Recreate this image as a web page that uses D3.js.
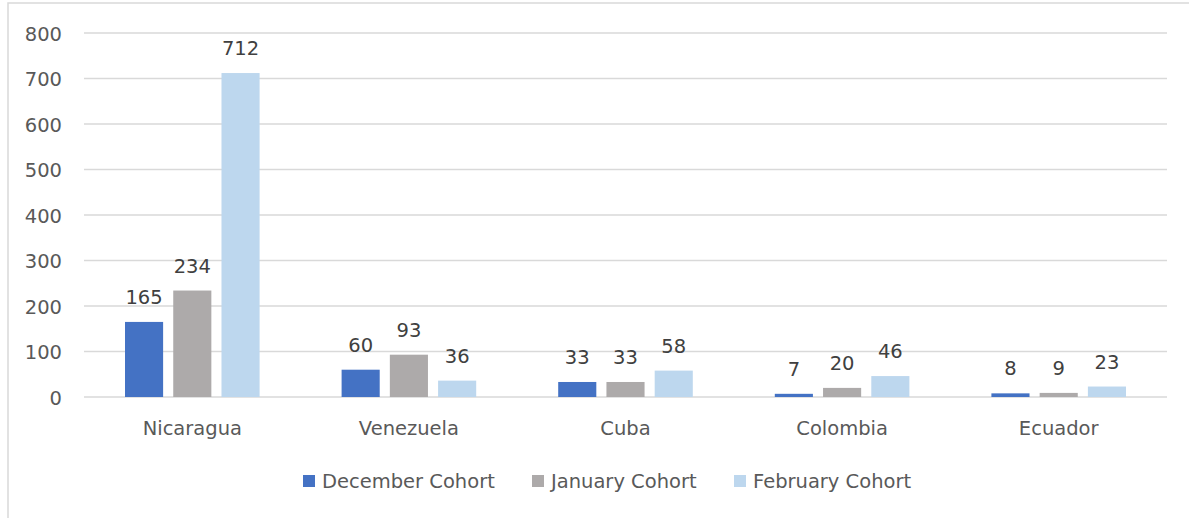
<!DOCTYPE html>
<html><head><meta charset="utf-8">
<script src="https://cdn.jsdelivr.net/npm/d3@7"></script>
<style>
html,body{margin:0;padding:0;background:#fff;}
svg{display:block;font-family:"DejaVu Sans",Verdana,sans-serif;}
</style></head>
<body>
<svg id="c" width="1189" height="518"></svg>
<script>
const categories = ["Nicaragua","Venezuela","Cuba","Colombia","Ecuador"];
const seriesNames = ["December Cohort","January Cohort","February Cohort"];
const december = [165,60,33,7,8];
const january = [234,93,33,20,9];
const february = [712,36,58,46,23];
const yTicks = [0,100,200,300,400,500,600,700,800];
const colors = ["#4472C4","#ADAAAA","#BDD7EE"];

const series = [december, january, february];
const svg = d3.select("#c");
const plotLeft = 84, plotRight = 1167, plotTop = 33, plotBottom = 397;

svg.append("rect").attr("x",8).attr("y",3).attr("width",1200).attr("height",530)
  .attr("fill","none").attr("stroke","#D9D9D9").attr("stroke-width",1.5);

const x = d3.scaleBand().domain(categories).range([plotLeft,plotRight]).paddingInner(0).paddingOuter(0);
const y = d3.scaleLinear().domain([0,800]).range([plotBottom,plotTop]);
const inner = d3.scaleBand().domain(seriesNames).range([41,x.bandwidth()-41]).paddingInner(0.21).paddingOuter(0);

// gridlines
svg.append("g").selectAll("line").data(yTicks).join("line")
  .attr("x1",plotLeft).attr("x2",plotRight).attr("y1",d=>y(d)).attr("y2",d=>y(d))
  .attr("stroke","#D9D9D9").attr("stroke-width",1.5);

// y axis labels
const yAxis = d3.axisLeft(y).tickValues(yTicks).tickSize(0).tickPadding(0);
const gy = svg.append("g").attr("transform",`translate(62,0)`).call(yAxis);
gy.select(".domain").remove();
gy.selectAll("text").attr("fill","#595959").style("font-size","19.5px").style("font-family","DejaVu Sans").attr("dy","0.36em");

// x axis labels
const xAxis = d3.axisBottom(x).tickSize(0).tickPadding(0);
const gx = svg.append("g").attr("transform",`translate(0,${plotBottom})`).call(xAxis);
gx.select(".domain").remove();
gx.selectAll("text").attr("fill","#595959").style("font-size","19.5px").style("font-family","DejaVu Sans").attr("dy",null).attr("y",38);

// bars
series.forEach((vals,si)=>{
  const g = svg.append("g");
  g.selectAll("rect").data(categories).join("rect")
    .attr("x",c=>x(c)+inner(seriesNames[si]))
    .attr("width",inner.bandwidth())
    .attr("y",(c,i)=>y(vals[i]))
    .attr("height",(c,i)=>y(0)-y(vals[i]))
    .attr("fill",colors[si]);
  g.selectAll("text").data(categories).join("text")
    .attr("x",c=>x(c)+inner(seriesNames[si])+inner.bandwidth()/2)
    .attr("y",(c,i)=>y(vals[i])-18)
    .attr("text-anchor","middle").attr("fill","#404040").style("font-size","19.5px")
    .text((c,i)=>vals[i]);
});

// legend
const legendX = [303,532,734];
const lg = svg.append("g");
seriesNames.forEach((n,i)=>{
  lg.append("rect").attr("x",legendX[i]).attr("y",475).attr("width",12).attr("height",12).attr("fill",colors[i]);
  lg.append("text").attr("x",legendX[i]+19).attr("y",488).attr("fill","#595959").style("font-size","19.5px").text(n);
});
</script>
</body></html>
